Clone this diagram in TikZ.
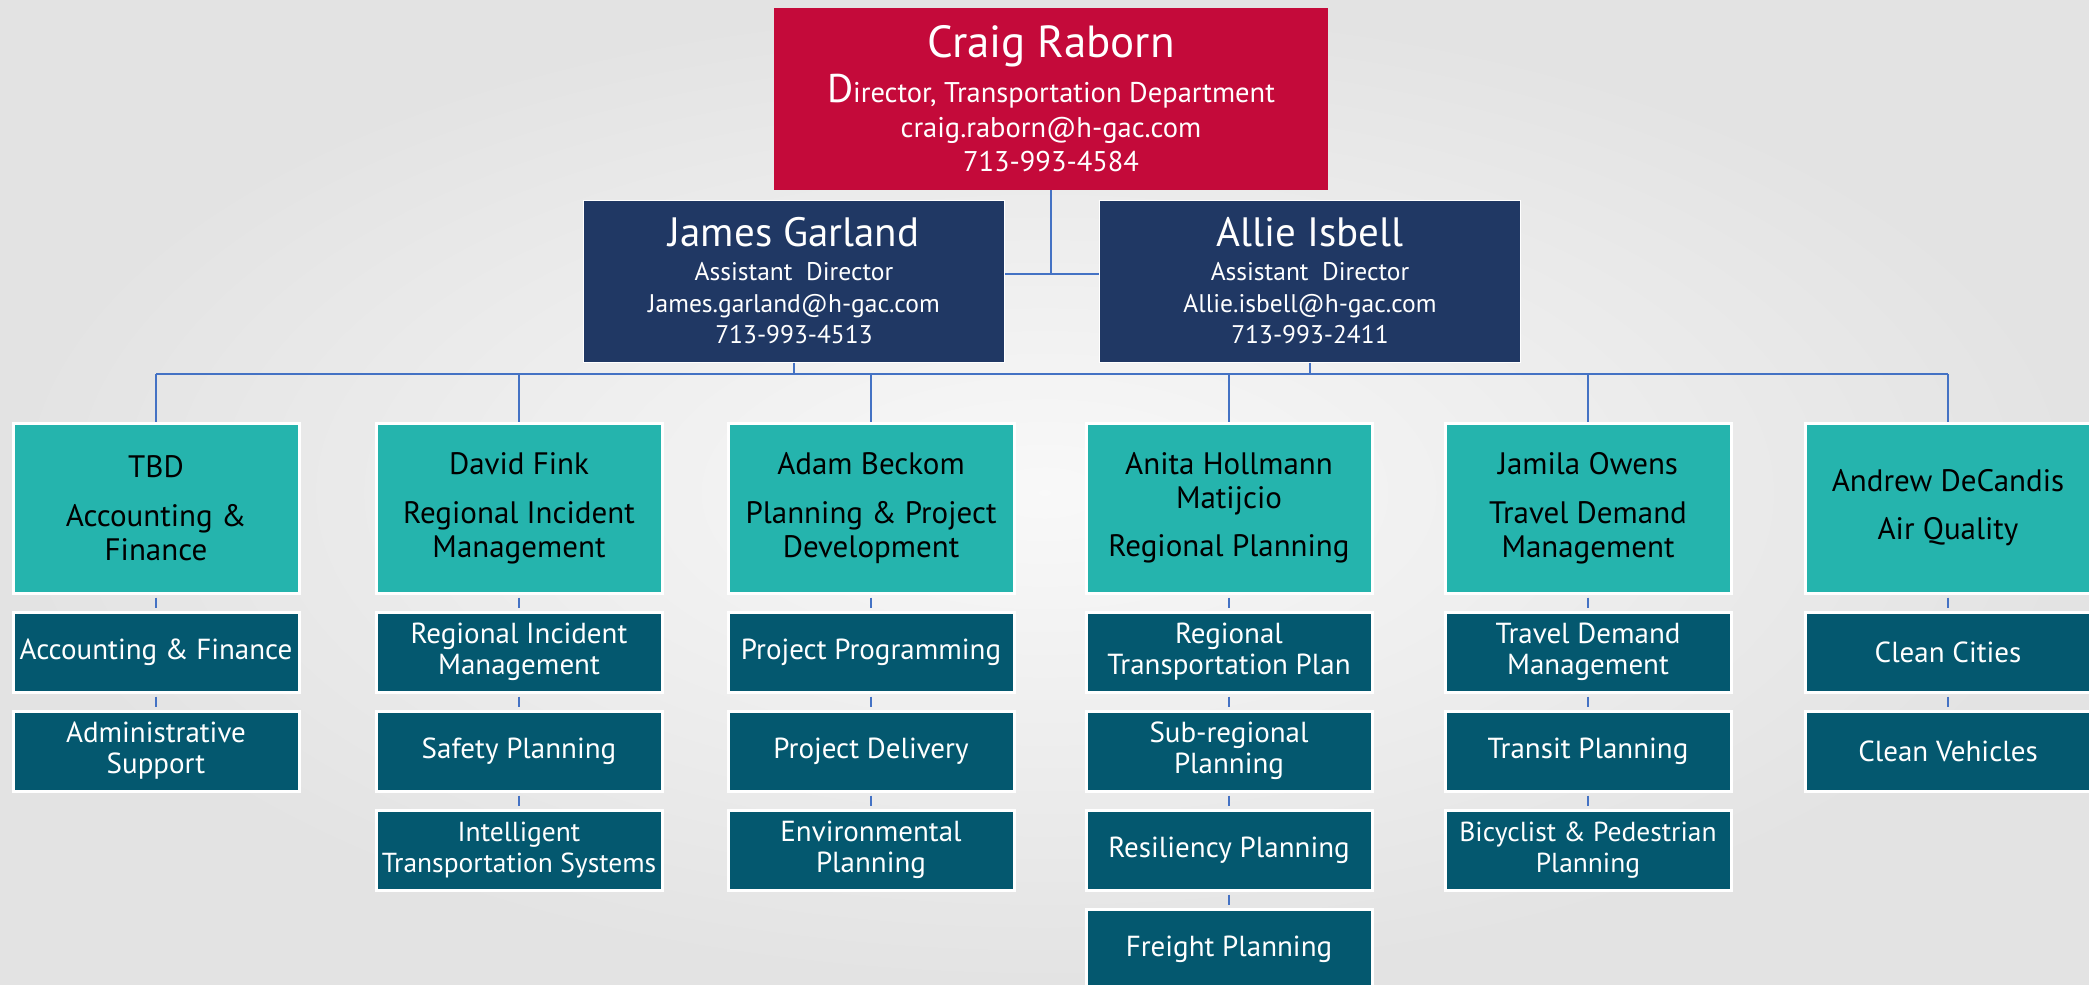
\documentclass[tikz,border=0pt]{standalone}
\usepackage{fontspec}
\setmainfont{PT Sans}
\usepackage{tikz}
\usetikzlibrary{positioning}
\definecolor{headred}{HTML}{C40A3A}
\definecolor{asstnavy}{HTML}{203864}
\definecolor{divteal}{HTML}{25B4AD}
\definecolor{unitteal}{HTML}{04586F}
\definecolor{linkblue}{HTML}{4472C4}
\tikzset{
    director/.style = {
        fill=headred,
        text=white,
        minimum width=554pt,
        minimum height=182pt,
        inner sep=0pt,
        align=center,
        font=\fontsize{28.5}{34.5}\selectfont
    },
    assistant/.style = {
        draw=white,
        line width=1pt,
        fill=asstnavy,
        text=white,
        minimum width=421pt,
        minimum height=162pt,
        inner sep=0pt,
        align=center,
        font=\fontsize{25.5}{31.5}\selectfont
    },
    division/.style = {
        draw=white,
        line width=3pt,
        fill=divteal,
        text=black,
        minimum width=286pt,
        minimum height=170pt,
        inner sep=0pt,
        align=center,
        font=\fontsize{31}{34}\selectfont
    },
    unit/.style = {
        draw=white,
        line width=3pt,
        fill=unitteal,
        text=white,
        minimum width=286pt,
        minimum height=80pt,
        inner sep=0pt,
        align=center,
        font=\fontsize{29}{31}\selectfont
    },
    narrowunit/.style = {
        unit,
        font=\fontsize{27.5}{31}\selectfont
    },
    link/.style = {
        draw=linkblue,
        line width=2.5pt
    },
    sublink/.style = {
        link,
        shorten <=3pt,
        shorten >=3pt
    },
}

\begin{document}
\begin{tikzpicture}[x=1pt, y=-1pt]
    \useasboundingbox (0,0) rectangle (2089,985);
    \shade[inner color=gray!5, outer color=gray!22] (0,0) rectangle (2089,985);

    % director and assistants
    \node[director] (craig) at (1051,99) {{\fontsize{45}{45}\selectfont Craig Raborn}\\[6pt]
        {\fontsize{40}{40}\selectfont D}irector, Transportation Department\\
        craig.raborn@h-gac.com\\
        713-993-4584};
    \node[assistant] (james) at (794,281) {{\fontsize{41}{41}\selectfont James Garland}\\[2.5pt]
        Assistant~~Director\\
        James.garland@h-gac.com\\
        713-993-4513};
    \node[assistant] (allie) at (1310,281) {{\fontsize{41}{41}\selectfont Allie Isbell}\\[2.5pt]
        Assistant~~Director\\
        Allie.isbell@h-gac.com\\
        713-993-2411};

    \coordinate (split) at (1051,274);
    \coordinate (busleft) at (156,374);
    \coordinate (busright) at (1948,374);
    \path[draw, link] (craig) -- (split);
    \path[draw, link] (james.east |- split) -- (allie.west |- split);
    \path[draw, link] (james) -- (james |- busleft);
    \path[draw, link] (allie) -- (allie |- busleft);
    \path[draw, link] (busleft) -- (busright);

    % divisions
    \node[division] (tbd) at (156,508) {TBD\\[15pt]Accounting \&\\Finance};
    \node[division] (fink) at (519,508) {David Fink\\[15pt]Regional Incident\\Management};
    \node[division] (beckom) at (871,508) {Adam Beckom\\[15pt]Planning \& Project\\Development};
    \node[division] (hollmann) at (1229,508) {Anita Hollmann\\Matijcio\\[14pt]Regional Planning};
    \node[division] (owens) at (1588,508) {Jamila Owens\\[15pt]Travel Demand\\Management};
    \node[division] (decandis) at (1948,508) {Andrew DeCandis\\[14pt]Air Quality};

    \path[draw, link] (tbd |- busleft) -- (tbd);
    \path[draw, link] (fink |- busleft) -- (fink);
    \path[draw, link] (beckom |- busleft) -- (beckom);
    \path[draw, link] (hollmann |- busleft) -- (hollmann);
    \path[draw, link] (owens |- busleft) -- (owens);
    \path[draw, link] (decandis |- busleft) -- (decandis);

    % units
    \node[unit] (acct) at (156,652) {Accounting \& Finance};
    \node[unit] (admin) at (156,751) {Administrative\\Support};

    \node[unit] (rim) at (519,652) {Regional Incident\\Management};
    \node[unit] (safety) at (519,751) {Safety Planning};
    \node[narrowunit] (its) at (519,850) {Intelligent\\Transportation Systems};

    \node[unit] (progr) at (871,652) {Project Programming};
    \node[unit] (deliv) at (871,751) {Project Delivery};
    \node[unit] (envir) at (871,850) {Environmental\\Planning};

    \node[unit] (rtp) at (1229,652) {Regional\\Transportation Plan};
    \node[unit] (subreg) at (1229,751) {Sub-regional\\Planning};
    \node[unit] (resil) at (1229,850) {Resiliency Planning};
    \node[unit] (freight) at (1229,949) {Freight Planning};

    \node[unit] (tdm) at (1588,652) {Travel Demand\\Management};
    \node[unit] (transit) at (1588,751) {Transit Planning};
    \node[narrowunit] (bikeped) at (1588,850) {Bicyclist \& Pedestrian\\Planning};

    \node[unit] (cities) at (1948,652) {Clean Cities};
    \node[unit] (vehicles) at (1948,751) {Clean Vehicles};

    \path[draw, sublink] (tbd) -- (acct);
    \path[draw, sublink] (acct) -- (admin);
    \path[draw, sublink] (fink) -- (rim);
    \path[draw, sublink] (rim) -- (safety);
    \path[draw, sublink] (safety) -- (its);
    \path[draw, sublink] (beckom) -- (progr);
    \path[draw, sublink] (progr) -- (deliv);
    \path[draw, sublink] (deliv) -- (envir);
    \path[draw, sublink] (hollmann) -- (rtp);
    \path[draw, sublink] (rtp) -- (subreg);
    \path[draw, sublink] (subreg) -- (resil);
    \path[draw, sublink] (resil) -- (freight);
    \path[draw, sublink] (owens) -- (tdm);
    \path[draw, sublink] (tdm) -- (transit);
    \path[draw, sublink] (transit) -- (bikeped);
    \path[draw, sublink] (decandis) -- (cities);
    \path[draw, sublink] (cities) -- (vehicles);
\end{tikzpicture}
\end{document}
